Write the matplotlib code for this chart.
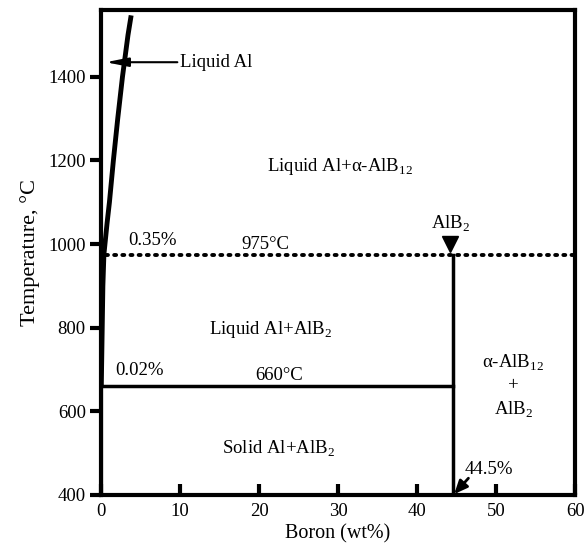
import matplotlib.pyplot as plt
import numpy as np

plt.rcParams['font.family'] = ['Liberation Serif', 'DejaVu Serif']
plt.rcParams['mathtext.fontset'] = 'custom'
plt.rcParams['mathtext.rm'] = 'Liberation Serif'

# liquidus of Al-rich side (wt% B vs temperature)
liq_temp = [660, 900, 975, 1050, 1100, 1200, 1300, 1400, 1500, 1547]
liq_boron = [0.02, 0.22, 0.35, 0.75, 1.05, 1.55, 2.1, 2.7, 3.4, 3.8]

peritectic_T = 975
eutectic_T = 660
alb2_boron = 44.5

x_ticks = [0, 10, 20, 30, 40, 50, 60]
y_ticks = [400, 600, 800, 1000, 1200, 1400]

fig = plt.figure(figsize=(5.88, 5.53), dpi=100)
ax = fig.add_axes([0.172, 0.105, 0.806, 0.877])

ax.plot(liq_boron, liq_temp, color='black', lw=3.5, solid_capstyle='butt',
        solid_joinstyle='round')
ax.plot([0, 0], [400, eutectic_T], color='black', lw=3)

# horizontal invariants
ax.plot([0, alb2_boron], [eutectic_T, eutectic_T], color='black', lw=2.5)
ax.plot([0.6, 60], [peritectic_T, peritectic_T], color='black', lw=2.8,
        linestyle=(0, (0.5, 1.6)), dash_capstyle='round')
ax.plot([alb2_boron, alb2_boron], [400, peritectic_T], color='black', lw=2.5)

# arrows
ax.annotate('Liquid Al', xy=(0.6, 1435), xytext=(10.0, 1435),
            fontsize=13.5, va='center', ha='left',
            arrowprops=dict(arrowstyle='-|>,head_length=1.0,head_width=0.2',
                            color='black', lw=1.5, shrinkA=0, shrinkB=0))
ax.plot([alb2_boron - 0.3], [peritectic_T + 26], marker='v', ms=11,
        color='black', mec='black')
ax.text(alb2_boron - 0.3, peritectic_T + 50, r'AlB$_2$', fontsize=13.5,
        ha='center', va='bottom')
ax.annotate('', xy=(alb2_boron + 0.2, 402), xytext=(46.5, 440),
            arrowprops=dict(arrowstyle='-|>,head_length=0.8,head_width=0.35',
                            color='black', lw=2, shrinkA=0, shrinkB=0))
ax.text(46.0, 440, '44.5%', fontsize=13.5, ha='left', va='bottom')

# region and point labels
ax.text(30.2, 1185, 'Liquid Al+α-AlB$_{12}$', fontsize=13.5, ha='center', va='center')
ax.text(3.4, 988, '0.35%', fontsize=13.5, ha='left', va='bottom')
ax.text(20.8, 978, '975°C', fontsize=13.5, ha='center', va='bottom')
ax.text(21.4, 795, 'Liquid Al+AlB$_2$', fontsize=13.5, ha='center', va='center')
ax.text(1.8, 678, '0.02%', fontsize=13.5, ha='left', va='bottom')
ax.text(22.5, 666, '660°C', fontsize=13.5, ha='center', va='bottom')
ax.text(22.5, 510, 'Solid Al+AlB$_2$', fontsize=13.5, ha='center', va='center')
ax.text(52.2, 660, 'α-AlB$_{12}$\n+\nAlB$_2$', fontsize=13.5,
        ha='center', va='center', linespacing=1.35)

ax.set_xlim(0, 60)
ax.set_ylim(400, 1560)
ax.set_xticks(x_ticks)
ax.set_yticks(y_ticks)
ax.tick_params(axis='x', direction='in', length=8, width=3, labelsize=13.5, pad=6)
ax.tick_params(axis='y', direction='out', length=8, width=3, labelsize=13.5, pad=3)
for s in ax.spines.values():
    s.set_linewidth(3)

ax.set_xlabel('Boron (wt%)', fontsize=14.5, labelpad=3)
ax.set_ylabel('Temperature, °C', fontsize=16, labelpad=6)

fig.savefig('out.png', dpi=100)
